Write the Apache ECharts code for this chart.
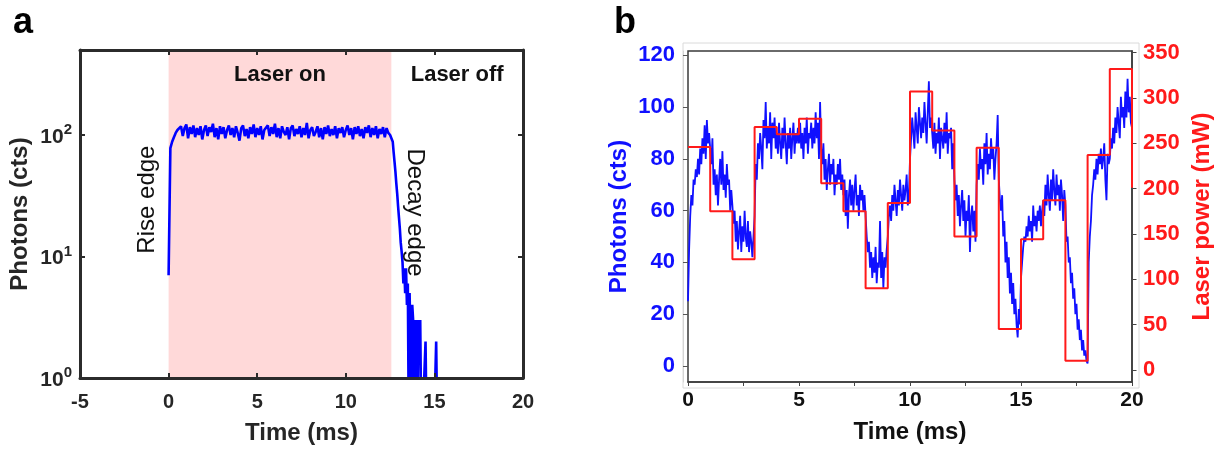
<!DOCTYPE html>
<html>
<head>
<meta charset="utf-8">
<script src="https://cdn.jsdelivr.net/npm/echarts@6/dist/echarts.min.js"></script>
<style>
  html, body { margin: 0; padding: 0; background: #ffffff; }
  #chart { width: 1220px; height: 450px; }
</style>
</head>
<body>
<div id="chart"></div>
<script>
// ---------------- Panel a data ----------------
// Photon counts during laser-on, sampled every 0.1 ms from 0.0 to 12.6 ms
const stepOnA = 0.1;
const photonsOnA = [
  7, 78, 88, 96, 104, 110,
  106, 118, 98, 114, 122, 94, 116, 102, 120, 96,
  114, 100, 118, 92, 110, 120, 98, 116, 106, 124,
  96, 114, 92, 118, 102, 116, 94, 110, 120, 100,
  114, 96, 118, 104, 90, 114, 120, 98, 112, 94,
  116, 102, 122, 96, 114, 100, 118, 92, 110, 106,
  120, 98, 116, 102, 124, 96, 114, 94, 118, 106,
  100, 116, 92, 114, 120, 98, 112, 102, 118, 96,
  114, 100, 126, 94, 110, 116, 98, 106, 118, 96,
  114, 92, 116, 102, 120, 98, 112, 100, 118, 94,
  114, 104, 116, 96, 110, 120, 100, 114, 92, 116,
  102, 118, 98, 112, 94, 116, 104, 120, 96, 114,
  100, 118, 94, 112, 102, 116, 96, 114, 104, 100,
  100
];
// Photon counts after the laser is switched off, every 0.05 ms from 12.65 ms
const decayStartA = 12.65;
const stepOffA = 0.05;
const photonsOffA = [
  88, 72, 60, 50, 40, 33, 26, 21, 17, 13, 11, 9, 6, 8, 5, 8, 4, 6,
  0, 5, 2, 0, 4, 3, 0, 3, 1, 3, 0, 3, 2, 3, 0, 1, 0, 0, 0, 2,
  0, 0, 0, 0, 0, 0, 0, 0, 0, 0, 0, 2, 0
];
const laserOnWindowA = [0, 12.57];
const xTicksA = { min: -5, max: 20, interval: 5 };

// ---------------- Panel b data ----------------
const stepB = 0.05; // ms between photon samples
const photonsB = [
  25, 45, 58, 66, 62, 72, 70, 76, 73, 80, 74, 84, 78, 88, 82, 93, 80, 95, 86, 90,
  84, 78, 88, 70, 76, 66, 74, 62, 72, 80, 70, 83, 68, 74, 65, 78, 70, 72, 60, 68,
  62, 55, 60, 48, 56, 45, 52, 58, 44, 54, 48, 60, 50, 46, 56, 44, 52, 48, 42, 50,
  58, 78, 72, 86, 80, 90, 84, 76, 95, 88, 102, 84, 92, 86, 98, 80, 94, 88, 96, 84,
  90, 82, 94, 86, 80, 92, 84, 96, 86, 78, 90, 84, 92, 80, 88, 94, 82, 90, 86, 92,
  86, 94, 84, 90, 80, 92, 86, 96, 82, 90, 88, 94, 84, 92, 86, 98, 88, 94, 80, 102,
  84, 78, 86, 72, 80, 68, 76, 82, 70, 78, 74, 80, 66, 74, 70, 78, 72, 80, 68, 74,
  66, 72, 58, 68, 53, 66, 72, 62, 70, 60, 68, 74, 62, 66, 58, 70, 64, 68, 60, 66,
  58, 50, 44, 48, 38, 44, 34, 42, 36, 46, 32, 40, 38, 56, 34, 44, 30, 42, 38, 45,
  50, 58, 62, 56, 66, 60, 70, 64, 58, 68, 62, 72, 66, 60, 70, 64, 68, 74, 62, 66,
  80, 88, 96, 90, 84, 98, 92, 86, 100, 94, 88, 96, 90, 102, 94, 86, 98, 110, 92, 96,
  90, 84, 94, 82, 90, 86, 96, 80, 92, 88, 84, 94, 86, 98, 82, 90, 88, 92, 76, 86,
  72, 64, 70, 58, 66, 54, 62, 68, 56, 64, 50, 60, 56, 66, 44, 58, 62, 52, 60, 48,
  70, 78, 72, 84, 76, 80, 70, 86, 78, 90, 74, 82, 76, 88, 80, 84, 72, 80, 86, 97,
  72, 64, 60, 66, 50, 56, 40, 48, 34, 42, 28, 36, 24, 32, 20, 26, 16, 11, 22, 16,
  34, 40, 46, 50, 48, 54, 50, 58, 52, 56, 48, 62, 54, 58, 52, 60, 56, 62, 54, 60,
  64, 58, 70, 62, 74, 66, 60, 72, 64, 76, 68, 62, 74, 66, 70, 60, 72, 66, 56, 68,
  62, 48, 50, 40, 42, 32, 36, 26, 30, 20, 24, 14, 18, 10, 14, 6, 10, 4, 6, 2,
  1, 40, 50, 56, 66, 70, 76, 72, 80, 74, 82, 78, 84, 76, 80, 86, 72, 64, 82, 78,
  80, 88, 84, 92, 86, 96, 90, 100, 94, 88, 104, 96, 100, 92, 106, 96, 111, 98, 104, 94,
  92
];
const laserStepTimesB = [0, 1, 2, 3, 4, 5, 6, 7, 8, 9, 10, 11, 12, 13, 14, 15, 16, 17, 18, 19, 20];
const laserPowerB = [246, 175, 122, 268, 260, 277, 206, 175, 90, 184, 307, 264, 147, 245, 45, 144, 187, 10, 237, 332, 201];
const xTicksB = { min: 0, max: 20, interval: 2.5, labelEvery: 5 };
const photonAxisB = { min: -6.2, max: 121.7, step: 20 };
const powerAxisB = { min: -13.4, max: 351.8, step: 50 };

// ---------------- build ----------------
const FONT = "'Liberation Sans', Arial, Helvetica, sans-serif";
const FRAME = '#2b2b2b';
const BLUE = '#0000ff';
const BLUE_B = '#1010ff';
const RED = '#ff1a1a';

const seriesA = [];
photonsOnA.forEach((v, i) => seriesA.push([+(i * stepOnA).toFixed(3), v]));
// zero counts cannot sit on a log axis: send them below the 10^0 floor so they are clipped
photonsOffA.forEach((v, i) => seriesA.push([+(decayStartA + i * stepOffA).toFixed(3), v === 0 ? 0.5 : v]));

const seriesB = photonsB.map((v, i) => [+(i * stepB).toFixed(3), v]);
const laserB = laserStepTimesB.map((t, i) => [t, laserPowerB[i]]);

const powLabel = (v) => {
  const e = Math.log10(v);
  const r = Math.round(e);
  if (Math.abs(e - r) > 1e-6) return '';
  return '{b|10}{s|' + r + '}';
};

const chart = echarts.init(document.getElementById('chart'), null, { renderer: 'canvas' });

const option = {
  animation: false,
  backgroundColor: '#ffffff',
  textStyle: { fontFamily: FONT },
  title: [
    { text: 'a', left: 8, top: 0, textStyle: { fontSize: 36, fontWeight: 'bold', color: '#000', fontFamily: FONT } },
    { text: 'b', left: 609, top: 0, textStyle: { fontSize: 36, fontWeight: 'bold', color: '#000', fontFamily: FONT } }
  ],
  grid: [
    { left: 80, top: 50, width: 443, height: 332, containLabel: false },
    { left: 688, top: 51, width: 444, height: 331, show: true, borderColor: '#3a3a3a', borderWidth: 1.5, backgroundColor: 'transparent' },
    { left: 683, top: 43, width: 456, height: 345, show: true, borderColor: '#dadada', borderWidth: 1, backgroundColor: 'transparent' }
  ],
  xAxis: [
    {
      gridIndex: 0, type: 'value', position: 'bottom', min: xTicksA.min, max: xTicksA.max, interval: xTicksA.interval, z: 6,
      axisLine: { show: true, onZero: false, lineStyle: { color: FRAME, width: 3 } },
      axisTick: { show: true, inside: true, length: 5, lineStyle: { color: FRAME, width: 2 } },
      axisLabel: { fontSize: 20, fontWeight: 'bold', color: '#262626', margin: 14, fontFamily: FONT },
      splitLine: { show: false },
      name: 'Time (ms)', nameLocation: 'middle', nameGap: 43,
      nameTextStyle: { fontSize: 24, fontWeight: 'bold', color: '#262626', fontFamily: FONT }
    },
    {
      gridIndex: 0, type: 'value', position: 'top', min: xTicksA.min, max: xTicksA.max, interval: xTicksA.interval, z: 6,
      axisLine: { show: true, onZero: false, lineStyle: { color: FRAME, width: 3 } },
      axisTick: { show: true, inside: true, length: 5, lineStyle: { color: FRAME, width: 2 } },
      axisLabel: { show: false }, splitLine: { show: false }
    },
    {
      gridIndex: 1, type: 'value', position: 'bottom', min: xTicksB.min, max: xTicksB.max, interval: xTicksB.interval,
      axisLine: { show: true, onZero: false, lineStyle: { color: '#3a3a3a', width: 1.5 } },
      axisTick: { show: true, inside: false, length: 4, lineStyle: { color: '#444', width: 1 } },
      axisLabel: {
        fontSize: 21, fontWeight: 'bold', color: '#111', margin: 8, fontFamily: FONT,
        formatter: (v) => (Math.abs(v % xTicksB.labelEvery) < 1e-9 ? String(v) : '')
      },
      splitLine: { show: false },
      name: 'Time (ms)', nameLocation: 'middle', nameGap: 38,
      nameTextStyle: { fontSize: 24, fontWeight: 'bold', color: '#111', fontFamily: FONT }
    },
    { gridIndex: 2, type: 'value', show: false, min: 0, max: 1 }
  ],
  yAxis: [
    {
      gridIndex: 0, type: 'log', logBase: 10, position: 'left', min: 1, max: 501, z: 6,
      axisLine: { show: true, onZero: false, lineStyle: { color: FRAME, width: 3 } },
      axisTick: { show: true, inside: true, length: 5, lineStyle: { color: FRAME, width: 2 } },
      axisLabel: {
        margin: 8, formatter: powLabel,
        rich: {
          b: { fontSize: 21, fontWeight: 'bold', color: '#262626', fontFamily: FONT, verticalAlign: 'bottom' },
          s: { fontSize: 15, fontWeight: 'bold', color: '#262626', fontFamily: FONT, verticalAlign: 'bottom', padding: [0, 0, 10, 0] }
        }
      },
      splitLine: { show: false },
      name: 'Photons (cts)', nameLocation: 'middle', nameGap: 48, nameRotate: 90,
      nameTextStyle: { fontSize: 24, fontWeight: 'bold', color: '#262626', fontFamily: FONT }
    },
    {
      gridIndex: 0, type: 'log', logBase: 10, position: 'right', min: 1, max: 501, z: 6,
      axisLine: { show: true, onZero: false, lineStyle: { color: FRAME, width: 3 } },
      axisTick: { show: true, inside: true, length: 5, lineStyle: { color: FRAME, width: 2 } },
      axisLabel: { show: false }, splitLine: { show: false }
    },
    {
      gridIndex: 1, type: 'value', position: 'left', offset: 5,
      min: photonAxisB.min, max: photonAxisB.max, minInterval: photonAxisB.step, maxInterval: photonAxisB.step,
      axisLine: { show: true, onZero: false, lineStyle: { color: '#d5d5d5', width: 1 } },
      axisTick: { show: true, inside: true, length: 5, lineStyle: { color: '#555', width: 1 } },
      axisLabel: { fontSize: 22, fontWeight: 'bold', color: BLUE_B, margin: 8, fontFamily: FONT, showMinLabel: false, showMaxLabel: false },
      splitLine: { show: false },
      name: 'Photons (cts)', nameLocation: 'middle', nameGap: 52, nameRotate: 90,
      nameTextStyle: { fontSize: 24, fontWeight: 'bold', color: BLUE_B, fontFamily: FONT }
    },
    {
      gridIndex: 1, type: 'value', position: 'right',
      min: powerAxisB.min, max: powerAxisB.max, minInterval: powerAxisB.step, maxInterval: powerAxisB.step,
      axisLine: { show: true, onZero: false, lineStyle: { color: '#3a3a3a', width: 1.5 } },
      axisTick: { show: true, inside: false, length: 4.5, lineStyle: { color: '#444', width: 1 } },
      axisLabel: { fontSize: 22, fontWeight: 'bold', color: RED, margin: 11, fontFamily: FONT, showMinLabel: false, showMaxLabel: false },
      splitLine: { show: false },
      name: 'Laser power (mW)', nameLocation: 'middle', nameGap: 58, nameRotate: 90,
      nameTextStyle: { fontSize: 24, fontWeight: 'bold', color: RED, fontFamily: FONT }
    },
    { gridIndex: 2, type: 'value', show: false, min: 0, max: 1 }
  ],
  series: [
    {
      type: 'line', xAxisIndex: 0, yAxisIndex: 0, data: seriesA,
      showSymbol: false, symbol: 'none', clip: true,
      lineStyle: { color: BLUE, width: 2.6 },
      markArea: {
        silent: true,
        label: { show: true, position: 'insideTop', distance: 14, fontSize: 22, fontWeight: 'bold', color: '#111', fontFamily: FONT },
        data: [
          [{ name: 'Laser on', xAxis: laserOnWindowA[0], itemStyle: { color: '#ffd9d9' } }, { xAxis: laserOnWindowA[1] }],
          [{ name: 'Laser off', xAxis: laserOnWindowA[1], itemStyle: { color: 'rgba(255,255,255,0)' } }, { xAxis: xTicksA.max }]
        ]
      },
      markPoint: {
        silent: true, symbol: 'circle', symbolSize: 1,
        itemStyle: { color: 'rgba(0,0,0,0)' },
        label: { show: true, position: 'inside', formatter: '{b}', fontSize: 24, color: '#111', fontFamily: FONT },
        data: [
          { name: 'Rise edge', coord: [-1.2, 29.4], label: { rotate: 90 } },
          { name: 'Decay edge', coord: [13.9, 23], label: { rotate: -90 } }
        ]
      }
    },
    {
      type: 'line', xAxisIndex: 2, yAxisIndex: 2, data: seriesB,
      showSymbol: false, symbol: 'none', clip: true,
      lineStyle: { color: BLUE_B, width: 1.8 }
    },
    {
      type: 'line', xAxisIndex: 2, yAxisIndex: 3, data: laserB, step: 'end',
      showSymbol: false, symbol: 'none', clip: true, z: 3,
      lineStyle: { color: RED, width: 2 }
    }
  ]
};

chart.setOption(option);
</script>
</body>
</html>
